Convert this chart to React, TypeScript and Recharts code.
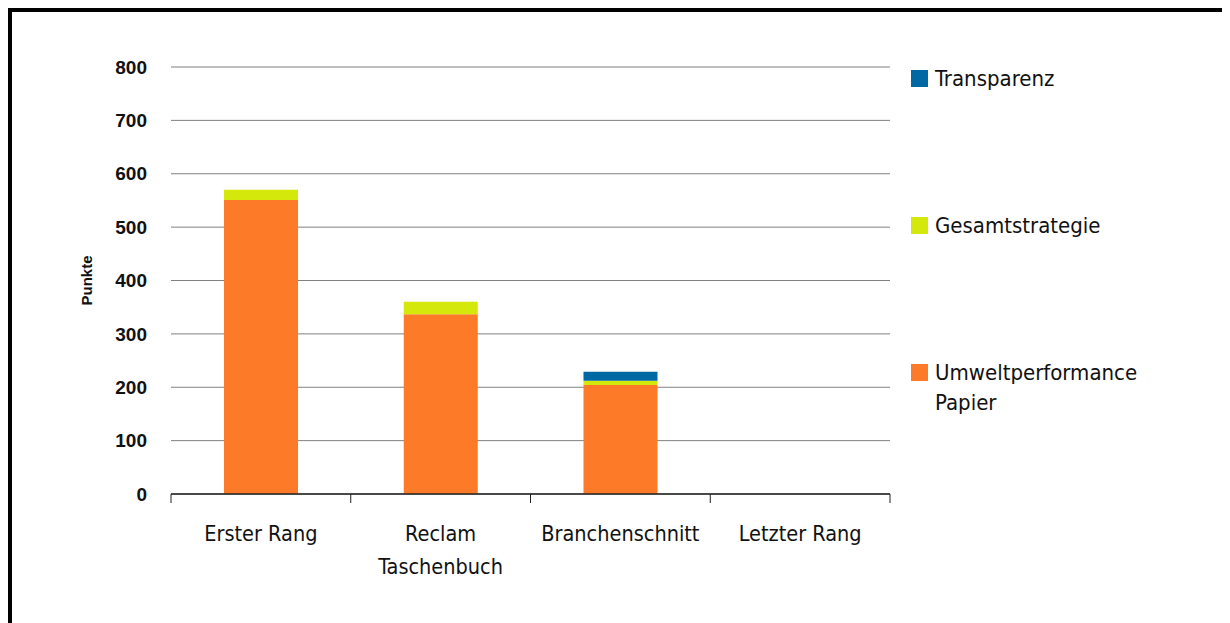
import React from "react";
import { BarChart, Bar, XAxis, YAxis, CartesianGrid, Label } from "recharts";

const categories = ["Erster Rang", "Reclam Taschenbuch", "Branchenschnitt", "Letzter Rang"];
const categoryLines: string[][] = [["Erster Rang"], ["Reclam", "Taschenbuch"], ["Branchenschnitt"], ["Letzter Rang"]];
const umweltperformance = [551, 337, 204, 0];
const gesamtstrategie = [19, 23, 8, 0];
const transparenz = [0, 0, 17, 0];
const yTicks = [0, 100, 200, 300, 400, 500, 600, 700, 800];
const boundaryTicks = [0, 1, 2, 3, 4];

const legendItems = [
  { lines: ["Transparenz"], color: "#0068A2" },
  { lines: ["Gesamtstrategie"], color: "#D4E80C" },
  { lines: ["Umweltperformance", "Papier"], color: "#FC7A28" },
];

const data = categories.map((c, i) => ({
  name: c,
  idx: i,
  umwelt: umweltperformance[i],
  gesamt: gesamtstrategie[i],
  transparenz: transparenz[i],
}));

const LABEL_FONT = "'DejaVu Sans Condensed', 'DejaVu Sans', sans-serif";

const CategoryTick = (props: any) => {
  const { x, y, payload } = props;
  const idx = categories.indexOf(payload.value);
  const lines = idx >= 0 ? categoryLines[idx] : [String(payload.value)];
  return (
    <text x={x} y={y} textAnchor="middle" fontFamily={LABEL_FONT} fontSize={21.5} fill="#111">
      {lines.map((l, i) => (
        <tspan key={i} x={x} dy={i === 0 ? 37 : 33}>
          {l}
        </tspan>
      ))}
    </text>
  );
};

const EmptyTick = (props: any) => <text x={props.x} y={props.y} />;

export default function App() {
  return (
    <div
      style={{
        position: "relative",
        boxSizing: "border-box",
        width: 1219,
        height: 640,
        border: "4px solid #000",
        background: "#fff",
      }}
    >
      <BarChart
        width={1211}
        height={632}
        data={data}
        margin={{ top: 55, right: 333, left: 79, bottom: 90 }}
        barSize={74}
      >
        <CartesianGrid xAxisId={1} horizontal vertical={false} stroke="#808080" strokeWidth={1} />
        <XAxis
          xAxisId={0}
          type="number"
          dataKey="idx"
          domain={[0, 4]}
          ticks={boundaryTicks}
          height={10}
          tick={<EmptyTick />}
          tickSize={9}
          axisLine={{ stroke: "#222", strokeWidth: 1.5 }}
          tickLine={{ stroke: "#222", strokeWidth: 1 }}
          allowDataOverflow
        />
        <XAxis
          xAxisId={1}
          dataKey="name"
          type="category"
          height={50}
          axisLine={false}
          tickLine={false}
          tickSize={0}
          tickMargin={0}
          interval={0}
          tick={<CategoryTick />}
        />
        <YAxis
          width={80}
          domain={[0, 800]}
          ticks={yTicks}
          axisLine={false}
          tickLine={false}
          tickSize={0}
          tickMargin={24}
          tick={{ fontFamily: "'Liberation Sans', Arial, sans-serif", fontWeight: "bold", fontSize: 19, fill: "#111" }}
        >
          <Label
            value="Punkte"
            angle={-90}
            position="insideLeft"
            offset={-4}
            style={{ fontFamily: "'Liberation Sans', Arial, sans-serif", fontWeight: "bold", fontSize: 15, fill: "#111", textAnchor: "middle" }}
          />
        </YAxis>
        <Bar xAxisId={1} dataKey="umwelt" stackId="a" fill="#FC7A28" isAnimationActive={false} />
        <Bar xAxisId={1} dataKey="gesamt" stackId="a" fill="#D4E80C" isAnimationActive={false} />
        <Bar xAxisId={1} dataKey="transparenz" stackId="a" fill="#0068A2" isAnimationActive={false} />
      </BarChart>
      {legendItems.map((item, i) => (
        <div
          key={i}
          style={{
            position: "absolute",
            left: 899,
            top: [52, 199, 346][i],
            display: "flex",
            alignItems: "flex-start",
            fontFamily: LABEL_FONT,
            fontSize: 22,
            lineHeight: "30px",
            color: "#111",
          }}
        >
          <div style={{ width: 17, height: 17, background: item.color, marginTop: 6, marginRight: 7 }} />
          <div>
            {item.lines.map((l, j) => (
              <div key={j}>{l}</div>
            ))}
          </div>
        </div>
      ))}
    </div>
  );
}
